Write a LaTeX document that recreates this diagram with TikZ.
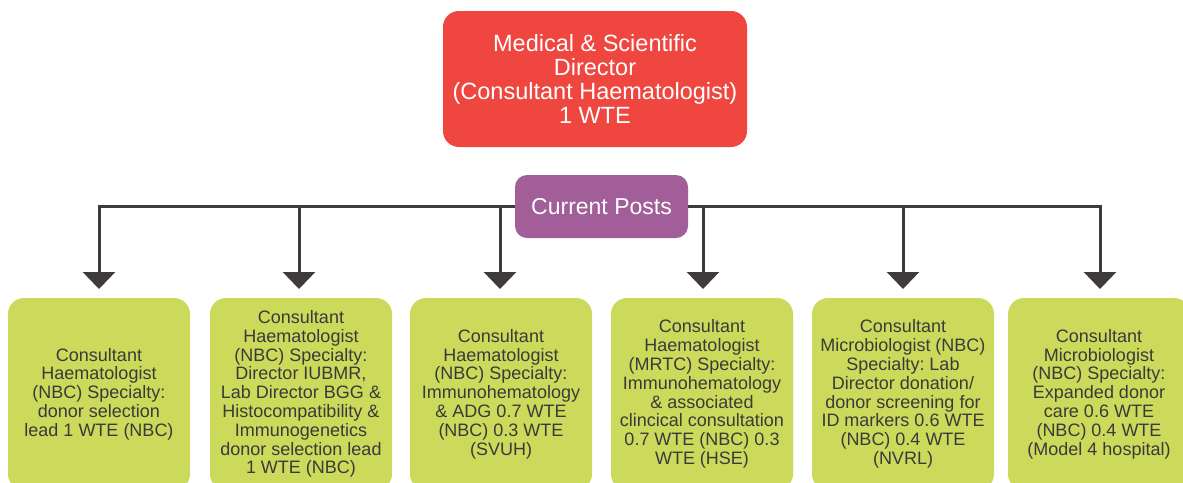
\documentclass[tikz,border=0pt]{standalone}
\usepackage{fontspec}
\setmainfont{Liberation Sans}
\usetikzlibrary{arrows.meta}
\definecolor{redbox}{HTML}{EF4640}
\definecolor{purplebox}{HTML}{A25E98}
\definecolor{greenbox}{HTML}{CCDA5C}
\definecolor{linecol}{HTML}{3E3A3D}
\definecolor{textgrey}{HTML}{3A3A3A}
\frenchspacing
\begin{document}
\begin{tikzpicture}[x=1pt,y=-1pt,
  topbox/.style={fill=redbox, rounded corners=16pt, text=white, align=center,
    font=\fontsize{23.5}{24.3}\selectfont, minimum width=304pt, minimum height=136pt, inner sep=0pt},
  postbox/.style={fill=purplebox, rounded corners=12pt, text=white,
    font=\fontsize{23}{25}\selectfont, minimum width=173pt, minimum height=63pt, inner sep=0pt},
  greenbox/.style={fill=greenbox, rounded corners=16pt, text=textgrey, align=center,
    font=\fontsize{18}{18.8}\selectfont, minimum width=182pt, minimum height=192pt, inner sep=0pt},
  conn/.style={draw=linecol, line width=3pt, -{Triangle[length=17pt,width=32pt]}}
]
\clip (0,0) rectangle (1183,482);
\fill[white] (0,0) rectangle (1183,482);

\node[topbox] (dir) at (595,79) {Medical \& Scientific\\Director\\(Consultant Haematologist)\\1 WTE};
\node[postbox] (cp) at (601.5,206.5) {Current Posts};

\node[greenbox] (b1) at (99,394) {Consultant\\Haematologist\\(NBC) Specialty:\\donor selection\\lead 1 WTE (NBC)};
\node[greenbox] (b2) at (301,394) {Consultant\\Haematologist\\(NBC) Specialty:\\Director IUBMR,\\Lab Director BGG \&\\Histocompatibility \&\\Immunogenetics\\donor selection lead\\1 WTE (NBC)};
\node[greenbox] (b3) at (501,394) {Consultant\\Haematologist\\(NBC) Specialty:\\Immunohematology\\\& ADG 0.7 WTE\\(NBC) 0.3 WTE\\(SVUH)};
\node[greenbox] (b4) at (702,394) {Consultant\\Haematologist\\(MRTC) Specialty:\\Immunohematology\\\& associated\\clincical consultation\\0.7 WTE (NBC) 0.3\\WTE (HSE)};
\node[greenbox] (b5) at (903,394) {Consultant\\Microbiologist (NBC)\\Specialty: Lab\\Director donation/\\donor screening for\\ID markers 0.6 WTE\\(NBC) 0.4 WTE\\(NVRL)};
\node[greenbox] (b6) at (1099,394) {Consultant\\Microbiologist\\(NBC) Specialty:\\Expanded donor\\care 0.6 WTE\\(NBC) 0.4 WTE\\(Model 4 hospital)};

\coordinate (t1) at (99,289);
\coordinate (t2) at (299,289);
\coordinate (t3) at (500,289);
\coordinate (t4) at (703,289);
\coordinate (t5) at (903,289);
\coordinate (t6) at (1100,289);

\draw[conn] (cp.west) -| (t1);
\draw[conn] (cp.west) -| (t2);
\draw[conn] (cp.west) -| (t3);
\draw[conn] (cp.east) -| (t4);
\draw[conn] (cp.east) -| (t5);
\draw[conn] (cp.east) -| (t6);
\end{tikzpicture}
\end{document}
